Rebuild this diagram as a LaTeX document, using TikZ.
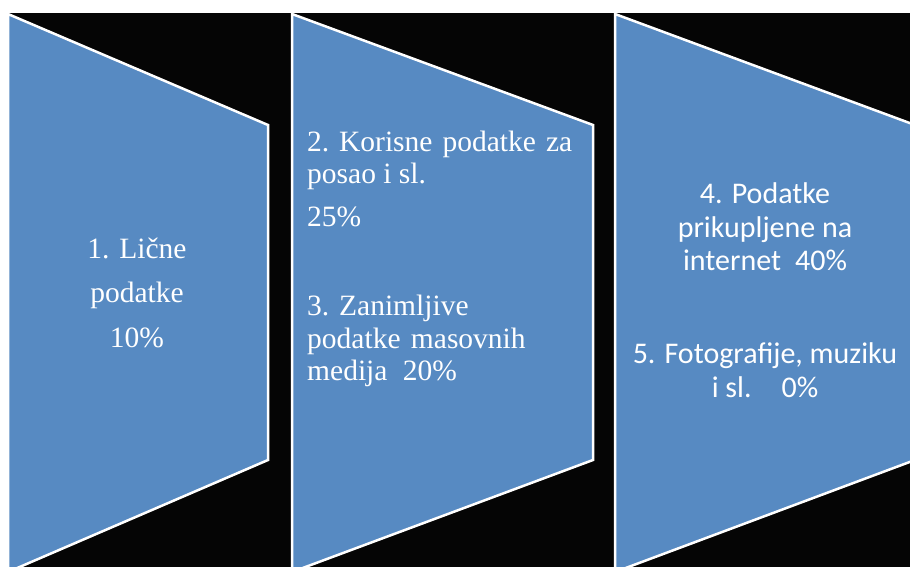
\documentclass[tikz,border=0pt]{standalone}
\usepackage{fontspec}
\setmainfont{Liberation Serif}
\newfontfamily\calib{Carlito}
\definecolor{boxblue}{RGB}{87,138,194}
\definecolor{bgblack}{RGB}{5,5,5}
\begin{document}
\begin{tikzpicture}[x=1pt,y=-1pt,
  shapebox/.style={fill=boxblue,draw=white,line width=2.5pt,line join=miter},
  serif/.style={text=white,inner sep=0pt,font=\fontsize{29.5}{33}\selectfont},
  sans/.style={text=white,inner sep=0pt,font=\calib\fontsize{30}{34}\selectfont}]
\useasboundingbox (0,0) rectangle (910,567);
\fill[white] (0,0) rectangle (910,567);
\begin{scope}
\clip (0,0) rectangle (910,567);
\fill[bgblack] (7,13) rectangle (912,569);
\draw[shapebox] (8,14) -- (268,125) -- (268,460) -- (8,572) -- cycle;
\draw[shapebox] (292,14) -- (593,125) -- (593,460) -- (292,572) -- cycle;
\draw[shapebox] (615,14) -- (915,125) -- (915,460) -- (615,572) -- cycle;
\end{scope}
% shape 1 text
\node[serif,anchor=base] (a1) at (137,258) {1. Lične};
\node[serif,anchor=base] (a2) at (137,302) {podatke};
\node[serif,anchor=base] (a3) at (137,347) {10\%};
% shape 2 text
\node[serif,anchor=base west] (b1) at (307,152) {\makebox[265pt][s]{\mbox{2. Korisne} podatke za}};
\node[serif,anchor=base west] (b2) at (307,183) {posao i sl.};
\node[serif,anchor=base west] (b3) at (307,226) {25\%};
\node[serif,anchor=base west] (b4) at (307,315) {3. Zanimljive};
\node[serif,anchor=base west] (b5) at (307,348) {podatke\hspace{3pt} masovnih};
\node[serif,anchor=base west] (b6) at (307,380) {medija\hspace{8pt} 20\%};
% shape 3 text
\node[sans,anchor=base] (c1) at (765,203) {4. Podatke};
\node[sans,anchor=base] (c2) at (765,237) {prikupljene na};
\node[sans,anchor=base] (c3) at (765,270) {internet\hspace{14pt}40\%};
\node[sans,anchor=base] (c4) at (765,363) {5. Fotografije, muziku};
\node[sans,anchor=base] (c5) at (765,397) {i sl.\hspace{30pt}0\%};
\end{tikzpicture}
\end{document}
